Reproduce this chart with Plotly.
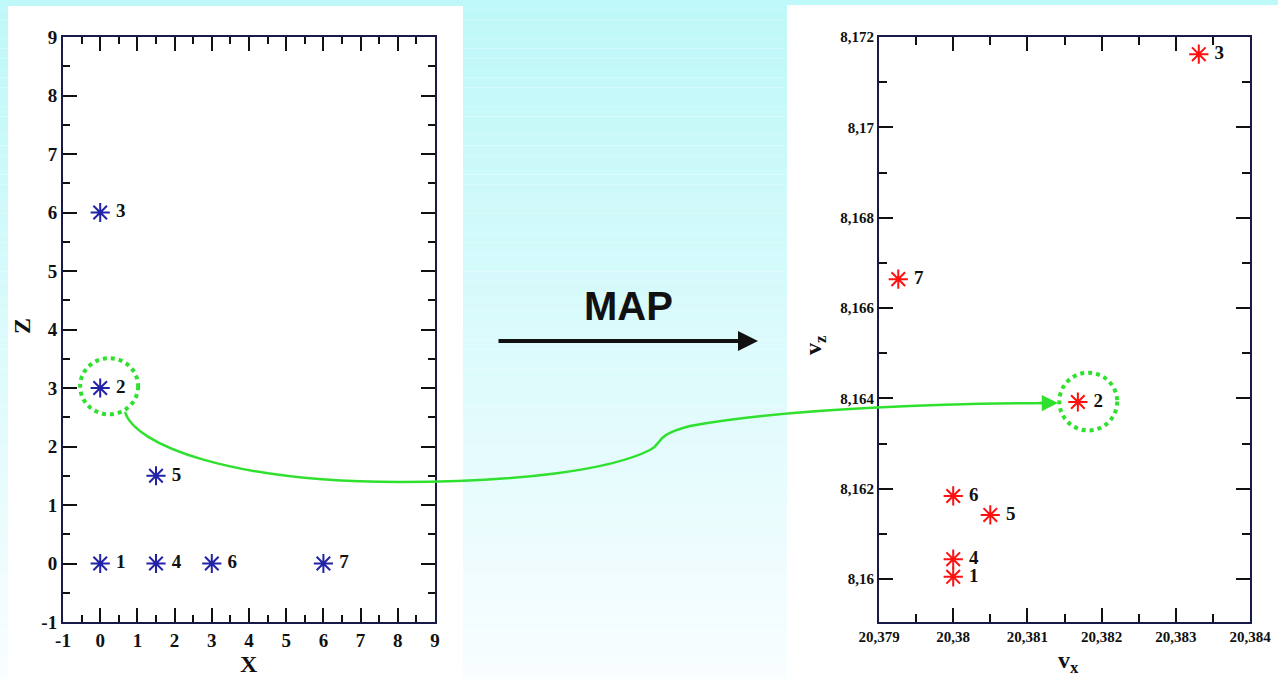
import plotly.graph_objects as go

# ---------------- data ----------------
point_labels = ["1", "2", "3", "4", "5", "6", "7"]
left_x = [0, 0, 0, 1.5, 1.5, 3, 6]
left_z = [0, 3, 6, 0, 1.5, 0, 0]
right_vx = [20.38, 20.38168, 20.38331, 20.38, 20.3805, 20.38, 20.37926]
right_vz = [8.16005, 8.16392, 8.17162, 8.16044, 8.16142, 8.16184, 8.16664]

left_ticks = [-1, 0, 1, 2, 3, 4, 5, 6, 7, 8, 9]
left_ticktext = ["-1", "0", "1", "2", "3", "4", "5", "6", "7", "8", "9"]
right_xticks = [20.379, 20.380, 20.381, 20.382, 20.383, 20.384]
right_xticktext = ["20,379", "20,38", "20,381", "20,382", "20,383", "20,384"]
right_yticks = [8.160, 8.162, 8.164, 8.166, 8.168, 8.170, 8.172]
right_yticktext = ["8,16", "8,162", "8,164", "8,166", "8,168", "8,17", "8,172"]

W, H = 1278, 679
SERIF = "Liberation Serif"
AXCOL = "#1a1a48"
GREEN = "#2fe02f"
BLUE = "#2222a8"
RED = "#ff1010"


def px(x):
    return x / W


def py(y):
    return 1 - y / H


fig = go.Figure()

fig.add_trace(go.Scatter(
    x=left_x, y=left_z, mode="markers+text", text=[" " + t for t in point_labels],
    textposition="middle right",
    textfont=dict(family=SERIF, size=19, color="#111111", weight="bold"),
    marker=dict(symbol="asterisk-open", size=16, color=BLUE,
                line=dict(width=2, color=BLUE)),
    xaxis="x", yaxis="y", showlegend=False, cliponaxis=False))

fig.add_trace(go.Scatter(
    x=right_vx, y=right_vz, mode="markers+text", text=[" " + t for t in point_labels],
    textposition="middle right",
    textfont=dict(family=SERIF, size=19, color="#111111", weight="bold"),
    marker=dict(symbol="asterisk-open", size=16, color=RED,
                line=dict(width=2, color=RED)),
    xaxis="x2", yaxis="y2", showlegend=False, cliponaxis=False))

axis_common = dict(showgrid=False, zeroline=False, showline=True, linecolor=AXCOL,
                   linewidth=2, mirror="ticks", ticks="inside", tickcolor="#111111",
                   tickwidth=2, ticklen=14)

left_font = dict(family=SERIF, size=19, color="#111111", weight="bold")
right_font = dict(family=SERIF, size=15, color="#111111", weight="bold")

fig.update_layout(
    width=W, height=H, autosize=False,
    margin=dict(l=0, r=0, t=0, b=0, pad=0, autoexpand=False),
    paper_bgcolor="white", plot_bgcolor="rgba(0,0,0,0)",
    xaxis=dict(domain=[px(63), px(435)], range=[-1, 9], tickvals=left_ticks,
               ticktext=left_ticktext, tickfont=left_font, anchor="y",
               minor=dict(dtick=0.5, tick0=-1, ticks="inside", ticklen=7, tickwidth=2,
                          tickcolor="#111111"),
               **axis_common),
    yaxis=dict(domain=[py(622), py(37)], range=[-1, 9], tickvals=left_ticks,
               ticktext=left_ticktext, tickfont=left_font, anchor="x",
               minor=dict(dtick=0.5, tick0=-1, ticks="inside", ticklen=7, tickwidth=2,
                          tickcolor="#111111"),
               **axis_common),
    xaxis2=dict(domain=[px(879), px(1250)], range=[20.379, 20.384], tickvals=right_xticks,
                ticktext=right_xticktext, tickfont=right_font, anchor="y2",
                minor=dict(dtick=0.0005, tick0=20.379, ticks="inside", ticklen=8,
                           tickwidth=2, tickcolor="#111111"),
                **axis_common),
    yaxis2=dict(domain=[py(622), py(37)], range=[8.15905, 8.172], tickvals=right_yticks,
                ticktext=right_yticktext, tickfont=right_font, anchor="x2",
                minor=dict(dtick=0.001, tick0=8.16, ticks="inside", ticklen=8,
                           tickwidth=2, tickcolor="#111111"),
                **axis_common),
)

shapes = []
# background vertical gradient (cyan -> white)
N = 70
c0 = (190, 248, 248)
c1 = (248, 253, 255)
for i in range(N):
    t = i / (N - 1)
    col = "rgb({},{},{})".format(*[round(a + (b - a) * t) for a, b in zip(c0, c1)])
    shapes.append(dict(type="rect", xref="paper", yref="paper", x0=0, x1=1,
                       y0=1 - (i + 1) / N, y1=1 - i / N, fillcolor=col,
                       line=dict(width=0), layer="below"))
# white panel boxes
shapes.append(dict(type="rect", xref="paper", yref="paper", x0=px(8), x1=px(463),
                   y0=0, y1=py(6), fillcolor="white", line=dict(width=0), layer="below"))
shapes.append(dict(type="rect", xref="paper", yref="paper", x0=px(787), x1=1,
                   y0=0, y1=py(5), fillcolor="white", line=dict(width=0), layer="below"))

# dotted circles around point 2
shapes.append(dict(type="circle", xref="x", yref="y", x0=0.24 - 0.78, x1=0.24 + 0.78,
                   y0=3.03 - 0.48, y1=3.03 + 0.48,
                   line=dict(color=GREEN, width=4, dash="dot")))
shapes.append(dict(type="circle", xref="x2", yref="y2", x0=20.38182 - 0.00039,
                   x1=20.38182 + 0.00039, y0=8.16393 - 0.00064, y1=8.16393 + 0.00064,
                   line=dict(color=GREEN, width=4, dash="dot")))

# green connecting curve (decorative, pixel-space converted to paper)
pts = [(125, 412), (135, 445), (230, 482), (400, 482),
       (520, 482), (610, 470), (650, 450),
       (664, 443), (652, 436), (690, 426),
       (780, 410), (900, 404), (1048, 403)]
p = "M {},{}".format(px(pts[0][0]), py(pts[0][1]))
for k in range(1, len(pts), 3):
    seg = pts[k:k + 3]
    p += " C " + " ".join("{},{}".format(px(a), py(b)) for a, b in seg)
shapes.append(dict(type="path", xref="paper", yref="paper", path=p,
                   line=dict(color=GREEN, width=2.5)))

fig.update_layout(shapes=shapes)

ann = []
# green arrow head
ann.append(dict(xref="paper", yref="paper", x=px(1058), y=py(403), ax=-20, ay=0,
                axref="pixel", ayref="pixel", showarrow=True, arrowhead=2, arrowsize=1.3,
                arrowwidth=2.5, arrowcolor=GREEN, text=""))
# MAP arrow
ann.append(dict(xref="paper", yref="paper", x=px(758), y=py(341), ax=-261, ay=0,
                showarrow=True, arrowhead=2, arrowsize=1, arrowwidth=4,
                arrowcolor="#111111", text=""))
ann.append(dict(xref="paper", yref="paper", x=px(628), y=py(306), text="MAP",
                xanchor="center", yanchor="middle",
                showarrow=False, font=dict(family="Liberation Sans", size=40,
                                           color="#111111", weight="bold")))
# axis titles
ann.append(dict(xref="paper", yref="paper", x=px(249), y=py(664), text="X",
                xanchor="center", yanchor="middle",
                showarrow=False, font=dict(family=SERIF, size=24, color="#111111",
                                           weight="bold")))
ann.append(dict(xref="paper", yref="paper", x=px(22), y=py(326), text="Z", textangle=-90,
                xanchor="center", yanchor="middle",
                showarrow=False, font=dict(family=SERIF, size=24, color="#111111",
                                           weight="bold")))
ann.append(dict(xref="paper", yref="paper", x=px(1068), y=py(662), text="v<sub>x</sub>",
                xanchor="center", yanchor="middle",
                showarrow=False, font=dict(family=SERIF, size=24, color="#111111",
                                           weight="bold")))
ann.append(dict(xref="paper", yref="paper", x=px(815), y=py(345), text="v<sub>z</sub>",
                xanchor="center", yanchor="middle",
                textangle=-90, showarrow=False,
                font=dict(family=SERIF, size=24, color="#111111", weight="bold")))
fig.update_layout(annotations=ann)

fig.write_html(
    "out.html",
    config={"displayModeBar": False},
    post_script="document.body.style.margin='0';document.body.style.padding='0';"
                "document.body.style.overflow='hidden';",
)
